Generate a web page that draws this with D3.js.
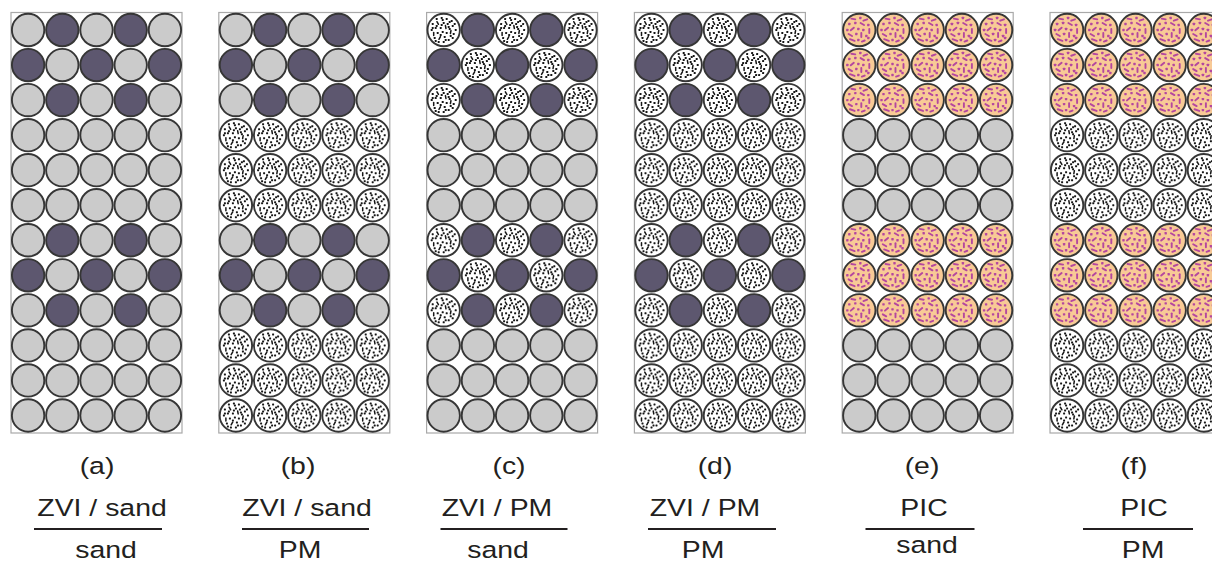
<!DOCTYPE html>
<html><head><meta charset="utf-8">
<script src="https://cdn.jsdelivr.net/npm/d3@7"></script>
<style>body{margin:0;background:#fff}svg{display:block}</style>
</head><body>
<svg id="chart" width="1212" height="564"></svg>
<script>
// ---- data ----
const panelIds = ["(a)", "(b)", "(c)", "(d)", "(e)", "(f)"];
const upperLabels = ["ZVI / sand", "ZVI / sand", "ZVI / PM", "ZVI / PM", "PIC", "PIC"];
const lowerLabels = ["sand", "PM", "sand", "PM", "sand", "PM"];
const reactiveKind = ["ZVI", "ZVI", "ZVI", "ZVI", "PIC", "PIC"];
const reactiveHost = ["sand", "sand", "PM", "PM", "PIC", "PIC"];
const baseKind = ["sand", "PM", "sand", "PM", "sand", "PM"];
const rowLayer = ["R", "R", "R", "B", "B", "B", "R", "R", "R", "B", "B", "B"];
const columns = [0, 1, 2, 3, 4];

// ---- layout / style ----
const letterX = [97, 298, 509, 715, 922, 1134];
const upperX = [102, 307, 497, 705, 924, 1144];
const lineX = [98, 305.5, 504, 712, 920, 1138];
const lineW = [128, 127, 127, 128, 109, 110];
const lowerX = [106, 300, 498, 703, 927, 1143];
const lowerY = [558, 558, 558, 558, 553, 558];

const fills = {sand: "#cbcbcb", ZVI: "#5d576f", PM: "#ffffff", PIC: "#f8ca96"};

// decorative speck textures (x, y, length, angle); length 0 = dot
const pmSpecks = [
  [-7,-11,0,0],[-2,-12,0,0],[3,-11,0,0],[8,-9,0,0],[-11,-6,0,0],[-6,-7,3,60],[0,-7,0,0],[4,-6,0,0],
  [9,-4,0,0],[12,0,0,0],[-12,0,0,0],[-8,-2,0,0],[-3,-2,0,0],[2,-3,3,80],[6,-1,0,0],[10,4,0,0],
  [-10,4,3,90],[-6,3,0,0],[-1,2,0,0],[3,3,0,0],[7,6,0,0],[-9,8,0,0],[-4,8,3,-60],[1,7,0,0],
  [5,10,0,0],[9,8,0,0],[-5,12,0,0],[0,12,0,0],[-1,-10,0,0],[5,-3,0,0],[-7,-4,0,0],[-3,5,0,0],
  [2,10,0,0],[-11,-2,0,0],[11,-6,0,0],[7,2,3,100],[-2,-5,0,0],[-8,11,0,0],[6,-8,0,0]
];
const picSpecks = [
  [-6,-11,4,10],[1,-12,0,0],[6,-10,4,-20],[-10,-6,0,0],[-4,-7,0,0],[3,-6,4,30],[9,-5,0,0],
  [-12,0,0,0],[-7,-1,4,-40],[-1,-1,0,0],[4,0,0,0],[10,1,4,90],[-9,5,4,30],[-3,4,0,0],
  [2,5,4,90],[7,6,0,0],[-7,10,5,20],[-1,10,0,0],[4,11,3,-20],[9,8,0,0]
];

const svg = d3.select("#chart");
const defs = svg.append("defs");

function makeTexture(id, specks, color, dotR, sw) {
  const g = defs.append("g").attr("id", id);
  g.selectAll("rect").data(specks.filter(d => d[2] === 0)).join("rect")
    .attr("x", d => d[0] - dotR).attr("y", d => d[1] - dotR)
    .attr("width", dotR * 2).attr("height", dotR * 2).attr("rx", dotR * 0.4).attr("fill", color);
  g.selectAll("line").data(specks.filter(d => d[2] > 0)).join("line")
    .attr("x1", d => d[0] - d[2] / 2 * Math.cos(d[3] * Math.PI / 180))
    .attr("y1", d => d[1] - d[2] / 2 * Math.sin(d[3] * Math.PI / 180))
    .attr("x2", d => d[0] + d[2] / 2 * Math.cos(d[3] * Math.PI / 180))
    .attr("y2", d => d[1] + d[2] / 2 * Math.sin(d[3] * Math.PI / 180))
    .attr("stroke", color).attr("stroke-width", sw).attr("stroke-linecap", "round");
}
makeTexture("tex-PM", pmSpecks, "#151515", 1.0, 1.5);
makeTexture("tex-PIC", picSpecks, "#b5479f", 1.2, 1.9);

const panelX = d3.scaleLinear().domain([0, 1]).range([11, 218.8]);
const colScale = d3.scaleBand().domain(columns).range([0, 171]);
const rowScale = d3.scaleBand().domain(d3.range(rowLayer.length)).range([12.5, 433]);
const radius = 16.2;

function material(p, r, c) {
  if (rowLayer[r] === "B") return baseKind[p];
  if (reactiveKind[p] === "PIC") return "PIC";
  return (r + c) % 2 === 1 ? "ZVI" : reactiveHost[p];
}

const tcol = "#231f20";
const font = "'Liberation Sans', Arial, sans-serif";
function label(x, y, txt) {
  svg.append("g").attr("transform", `translate(${x},${y}) scale(1.16,1)`)
    .append("text").attr("x", 0).attr("y", 0).attr("text-anchor", "middle")
    .attr("font-family", font).attr("font-size", 24.5).attr("fill", tcol).text(txt);
}

panelIds.forEach((id, p) => {
  const x0 = panelX(p);
  const g = svg.append("g").attr("transform", `translate(${x0},0)`);
  g.append("rect").attr("x", 0).attr("y", rowScale.range()[0])
    .attr("width", 171).attr("height", rowScale.range()[1] - rowScale.range()[0])
    .attr("fill", "#fff").attr("stroke", "#a9a9a9").attr("stroke-width", 1.2);
  const cells = [];
  rowLayer.forEach((_, r) => columns.forEach(c => cells.push({r, c, m: material(p, r, c)})));
  const cg = g.selectAll("g.cell").data(cells).join("g").attr("class", "cell")
    .attr("transform", d => `translate(${colScale(d.c) + colScale.bandwidth() / 2},${rowScale(d.r) + rowScale.bandwidth() / 2})`);
  cg.append("circle").attr("r", radius).attr("fill", d => fills[d.m])
    .attr("stroke", "#363636").attr("stroke-width", 1.9);
  cg.filter(d => d.m === "PM" || d.m === "PIC").append("use")
    .attr("href", d => "#tex-" + d.m);

  label(letterX[p], 474, id);
  label(upperX[p], 516, upperLabels[p]);
  svg.append("line").attr("x1", lineX[p] - lineW[p] / 2).attr("x2", lineX[p] + lineW[p] / 2)
    .attr("y1", 529).attr("y2", 529).attr("stroke", tcol).attr("stroke-width", 2.2);
  label(lowerX[p], lowerY[p], lowerLabels[p]);
});
</script>
</body></html>
